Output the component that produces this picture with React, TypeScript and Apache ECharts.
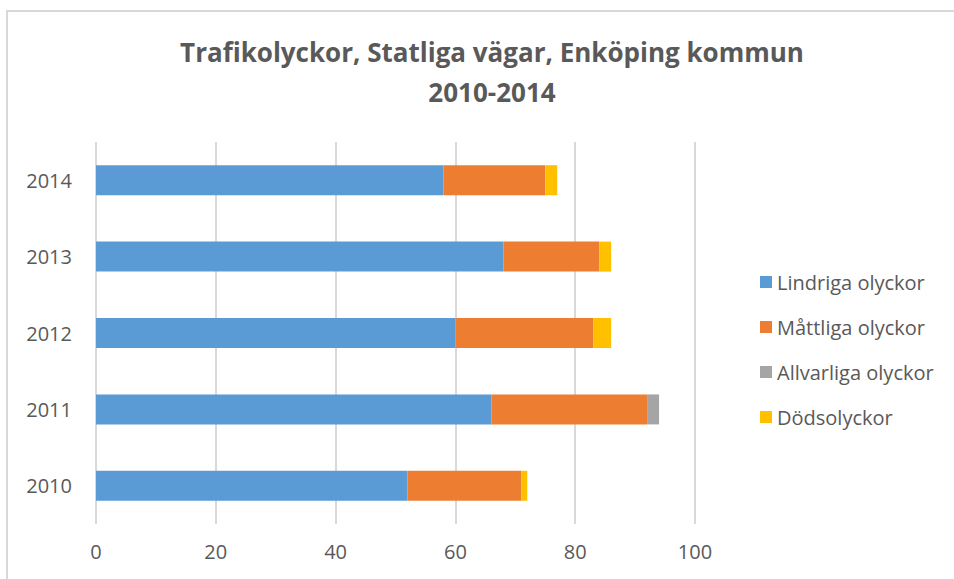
import React, { useEffect, useRef } from "react";
import * as echarts from "echarts";

const years = ["2010", "2011", "2012", "2013", "2014"];
const lindriga = [52, 66, 60, 68, 58];
const mattliga = [19, 26, 23, 16, 17];
const allvarliga = [0, 2, 0, 0, 0];
const dodsolyckor = [1, 0, 3, 2, 2];
const xTicks = { min: 0, max: 100, interval: 20 };

const seriesDefs = [
  { name: "Lindriga olyckor", data: lindriga, color: "#5B9BD5" },
  { name: "Måttliga olyckor", data: mattliga, color: "#ED7D31" },
  { name: "Allvarliga olyckor", data: allvarliga, color: "#A5A5A5" },
  { name: "Dödsolyckor", data: dodsolyckor, color: "#FFC000" },
];

const FONT = "'Open Sans', 'Noto Sans', sans-serif";
const TXT = "#595959";

export default function App() {
  const ref = useRef<HTMLDivElement>(null);
  useEffect(() => {
    if (!ref.current) return;
    const chart = echarts.init(ref.current, null, { renderer: "svg" });
    chart.setOption({
      animation: false,
      backgroundColor: "#ffffff",
      textStyle: { fontFamily: FONT },
      title: {
        text: "Trafikolyckor, Statliga vägar, Enköping kommun\n2010-2014",
        left: 487,
        top: 27,
        textAlign: "center",
        textStyle: {
          fontFamily: FONT,
          fontSize: 26,
          fontWeight: "bold",
          color: TXT,
          lineHeight: 40,
        },
      },
      graphic: [
        {
          type: "rect",
          shape: { x: 7, y: 11, width: 1000, height: 700 },
          style: { fill: "none", stroke: "#d9d9d9", lineWidth: 2 },
          silent: true,
          z: -1,
        },
      ],
      legend: {
        orient: "vertical",
        left: 755,
        top: 267,
        itemWidth: 12,
        itemHeight: 12,
        itemGap: 25,
        icon: "rect",
        textStyle: { fontFamily: FONT, fontSize: 20, color: TXT, lineHeight: 20 },
        data: seriesDefs.map((s) => s.name),
      },
      grid: { left: 96, right: 259, top: 142, bottom: 55, containLabel: false },
      xAxis: {
        type: "value",
        min: xTicks.min,
        max: xTicks.max,
        interval: xTicks.interval,
        axisLine: { show: false },
        axisTick: { show: false },
        axisLabel: { fontFamily: FONT, fontSize: 20, color: TXT, margin: 17 },
        splitLine: { show: true, lineStyle: { color: "#d9d9d9", width: 2 } },
      },
      yAxis: {
        type: "category",
        data: years,
        axisLine: { show: false },
        axisTick: { show: false },
        axisLabel: { fontFamily: FONT, fontSize: 20, color: TXT, margin: 24 },
      },
      series: seriesDefs.map((s) => ({
        name: s.name,
        type: "bar",
        stack: "total",
        data: s.data,
        barWidth: 30,
        itemStyle: { color: s.color },
      })),
    });
    return () => chart.dispose();
  }, []);
  return (
    <div
      ref={ref}
      style={{ position: "fixed", left: 0, top: 0, width: 954, height: 579 }}
    />
  );
}
